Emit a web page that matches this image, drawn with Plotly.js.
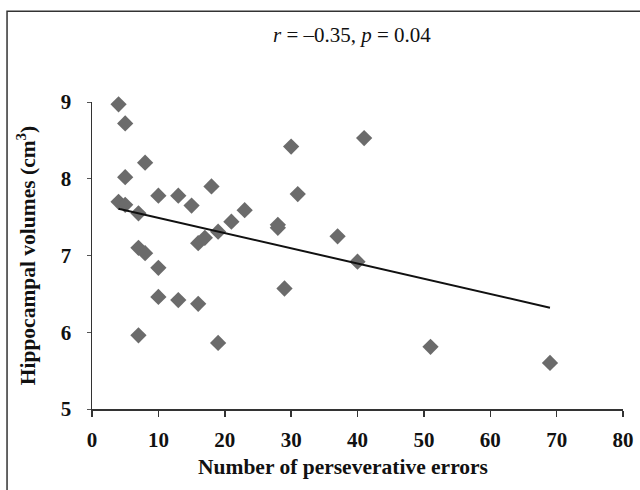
<!DOCTYPE html>
<html>
<head>
<meta charset="utf-8">
<script src="https://cdn.plot.ly/plotly-3.0.1.min.js"></script>
<style>html,body{margin:0;padding:0;background:#fff;}#chart{width:640px;height:490px;}</style>
</head>
<body>
<div id="chart"></div>
<script>
// Number of perseverative errors
const errors = [4, 5, 5, 8, 4, 5, 7, 10, 13, 15, 18, 7, 8, 10, 10, 13, 16, 7, 19, 16, 17, 19, 21, 23, 28, 28, 30, 31, 29, 37, 40, 41, 51, 69];
// Hippocampal volumes (cm3)
const volumes = [8.97, 8.72, 8.02, 8.21, 7.70, 7.66, 7.55, 7.78, 7.78, 7.65, 7.90, 7.10, 7.03, 6.84, 6.46, 6.42, 6.37, 5.96, 5.86, 7.16, 7.23, 7.31, 7.44, 7.59, 7.40, 7.36, 8.42, 7.80, 6.57, 7.25, 6.92, 8.53, 5.81, 5.60];
// Regression line end points as drawn
const trendX = [4, 69];
const trendY = [7.61, 6.32];
const xTicks = [0, 10, 20, 30, 40, 50, 60, 70, 80];
const yTicks = [5, 6, 7, 8, 9];

const serif = '"Liberation Serif", "Times New Roman", serif';

const traces = [
  {x: errors, y: volumes, type: 'scatter', mode: 'markers', cliponaxis: false,
   marker: {symbol: 'diamond', size: 12.5, color: '#6b6b6b'}, hoverinfo: 'skip'},
  {x: trendX, y: trendY, type: 'scatter', mode: 'lines', cliponaxis: false,
   line: {color: '#111111', width: 2}, hoverinfo: 'skip'}
];

const layout = {
  width: 640, height: 490,
  margin: {l: 92, r: 17.3, t: 102, b: 81},
  paper_bgcolor: '#ffffff', plot_bgcolor: '#ffffff',
  showlegend: false,
  font: {family: serif, color: '#111111'},
  xaxis: {
    range: [0, 80], tickvals: xTicks, ticktext: xTicks.map(String),
    showgrid: false, zeroline: false, showline: true, linecolor: '#333333', linewidth: 1.5,
    ticks: 'outside', ticklen: 6, tickcolor: '#333333', tickwidth: 1.5,
    ticklabelstandoff: 5,
    tickfont: {family: serif, size: 21, color: '#111111', weight: 'bold'}
  },
  yaxis: {
    range: [5, 9], tickvals: yTicks, ticktext: yTicks.map(String),
    showgrid: false, zeroline: false, showline: true, linecolor: '#333333', linewidth: 1.5,
    ticks: 'outside', ticklen: 4, tickcolor: '#555555', tickwidth: 1,
    ticklabelstandoff: 11,
    tickfont: {family: serif, size: 21, color: '#111111', weight: 'bold'},
    title: {text: '<b>Hippocampal volumes (cm<sup>3</sup>)</b>', font: {family: serif, size: 21.5, color: '#111111'}, standoff: 19}
  },
  annotations: [{
    text: '<i>r</i> = \u20130.35, <i>p</i> = 0.04',
    xref: 'paper', yref: 'paper', x: 0.49, y: 1.218, xanchor: 'center', yanchor: 'middle',
    showarrow: false, font: {family: serif, size: 21, color: '#111111'}
  }, {
    text: '<b>Number of perseverative errors</b>',
    xref: 'paper', yref: 'paper', x: 0.473, y: -0.189, xanchor: 'center', yanchor: 'middle',
    showarrow: false, font: {family: serif, size: 21.5, color: '#111111'}
  }],
  shapes: [{
    type: 'rect', xref: 'paper', yref: 'paper',
    x0: -0.160, x1: 1.1, y0: -0.35, y1: 1.296,
    line: {color: '#333333', width: 1.5}, fillcolor: 'rgba(0,0,0,0)', layer: 'below'
  }]
};

Plotly.newPlot('chart', traces, layout, {staticPlot: true, displayModeBar: false});
</script>
</body>
</html>
